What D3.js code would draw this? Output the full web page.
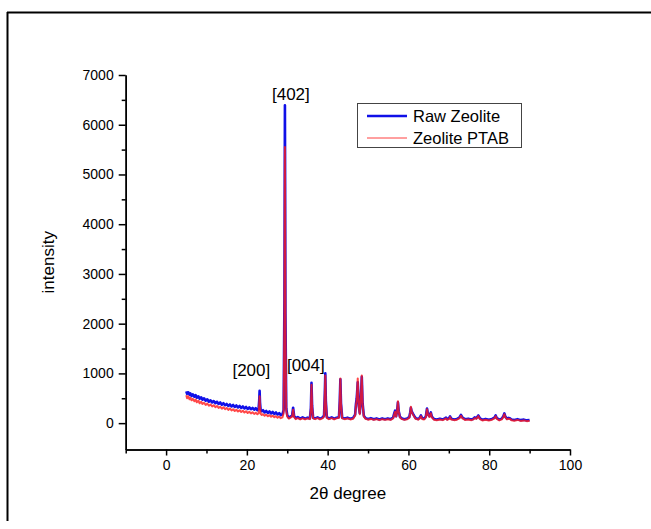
<!DOCTYPE html>
<html>
<head>
<meta charset="utf-8">
<script src="https://cdn.jsdelivr.net/npm/d3@7"></script>
<style>
body { margin: 0; background: #fff; }
svg { display: block; font-family: "Liberation Sans", Arial, sans-serif; }
.axis path, .axis line { stroke: #000; stroke-width: 1.5; fill: none; }
.axis text { font-size: 14px; fill: #000; }
</style>
</head>
<body>
<script>
// [2theta, intensity]
var rawZeolite = [[5.0,640],[5.2,590],[5.5,620],[5.8,570],[6.0,600],[6.3,545],[6.6,580],[7.0,530],[7.3,565],[7.6,510],[8.0,540],[8.3,490],[8.7,520],[9.0,470],[9.4,500],[9.8,450],[10.2,480],[10.6,430],[11.0,460],[11.4,415],[11.8,445],[12.2,400],[12.6,430],[13.0,385],[13.4,415],[13.8,370],[14.2,400],[14.6,360],[15.0,385],[15.4,345],[15.8,375],[16.2,335],[16.6,365],[17.0,325],[17.4,355],[17.8,315],[18.2,345],[18.6,305],[19.0,335],[19.4,295],[19.8,325],[20.2,285],[20.6,315],[21.0,280],[21.4,305],[21.8,270],[22.2,300],[22.6,260],[22.9,290],[23.05,450],[23.15,650],[23.25,420],[23.4,270],[23.7,240],[24.0,260],[24.4,215],[24.8,245],[25.2,205],[25.6,235],[26.0,195],[26.4,225],[26.8,185],[27.2,215],[27.6,175],[28.0,200],[28.4,160],[28.8,175],[29.1,260],[29.3,2500],[29.42,6390],[29.55,2200],[29.75,300],[30.0,160],[30.4,110],[30.8,130],[31.2,150],[31.45,310],[31.7,140],[32.1,100],[32.6,120],[33.2,90],[33.8,115],[34.4,90],[35.0,110],[35.6,95],[35.85,300],[36.0,810],[36.15,350],[36.4,110],[36.9,95],[37.5,115],[38.1,90],[38.7,110],[39.1,150],[39.3,600],[39.42,1000],[39.55,450],[39.8,120],[40.3,95],[41.0,115],[41.6,90],[42.2,110],[42.8,120],[43.0,450],[43.15,880],[43.3,400],[43.6,110],[44.2,95],[44.9,110],[45.6,90],[46.3,105],[46.8,170],[47.0,380],[47.2,500],[47.45,820],[47.7,350],[47.95,200],[48.25,550],[48.45,930],[48.65,400],[48.95,150],[49.4,100],[50.0,85],[50.7,100],[51.4,80],[52.1,95],[52.8,75],[53.5,95],[54.2,80],[54.9,95],[55.6,80],[56.2,110],[56.5,200],[56.7,250],[56.95,140],[57.2,250],[57.4,420],[57.6,240],[57.9,130],[58.4,95],[59.0,80],[59.7,95],[60.2,120],[60.45,220],[60.6,310],[60.8,240],[61.1,190],[61.4,150],[61.8,100],[62.4,85],[62.8,110],[63.1,155],[63.4,100],[63.9,90],[64.3,130],[64.6,295],[64.85,180],[65.2,140],[65.55,215],[65.8,130],[66.3,85],[67.0,75],[67.8,90],[68.5,75],[69.0,95],[69.3,110],[69.6,80],[70.0,95],[70.3,135],[70.6,90],[71.3,75],[72.0,85],[72.6,110],[73.0,165],[73.4,110],[74.0,80],[74.8,90],[75.6,75],[76.1,90],[76.4,115],[76.8,100],[77.3,155],[77.7,95],[78.3,70],[79.1,85],[79.9,70],[80.7,85],[81.3,110],[81.6,155],[81.9,100],[82.5,70],[83.1,90],[83.5,140],[83.75,195],[84.0,130],[84.4,90],[84.8,105],[85.1,100],[85.5,75],[86.2,65],[87.0,80],[87.8,60],[88.6,70],[89.3,55],[90.0,65]];

var zeolitePTAB = [[5.0,560],[5.2,500],[5.5,540],[5.8,480],[6.0,510],[6.3,460],[6.6,490],[7.0,440],[7.3,475],[7.6,420],[8.0,450],[8.3,400],[8.7,430],[9.0,385],[9.4,410],[9.8,365],[10.2,395],[10.6,350],[11.0,375],[11.4,335],[11.8,360],[12.2,320],[12.6,345],[13.0,305],[13.4,330],[13.8,290],[14.2,320],[14.6,280],[15.0,305],[15.4,265],[15.8,295],[16.2,255],[16.6,280],[17.0,245],[17.4,270],[17.8,235],[18.2,260],[18.6,225],[19.0,250],[19.4,215],[19.8,240],[20.2,205],[20.6,230],[21.0,195],[21.4,220],[21.8,185],[22.2,210],[22.6,180],[22.9,200],[23.05,350],[23.15,540],[23.25,330],[23.4,190],[23.7,165],[24.0,180],[24.4,150],[24.8,170],[25.2,140],[25.6,160],[26.0,130],[26.4,150],[26.8,120],[27.2,140],[27.6,110],[28.0,130],[28.4,100],[28.8,115],[29.1,200],[29.3,2200],[29.42,5550],[29.55,1900],[29.75,250],[30.0,130],[30.4,90],[30.8,110],[31.2,130],[31.45,270],[31.7,120],[32.1,80],[32.6,100],[33.2,75],[33.8,95],[34.4,75],[35.0,95],[35.6,80],[35.85,280],[36.0,770],[36.15,320],[36.4,95],[36.9,80],[37.5,100],[38.1,75],[38.7,95],[39.1,130],[39.3,580],[39.42,960],[39.55,420],[39.8,105],[40.3,80],[41.0,100],[41.6,75],[42.2,95],[42.8,110],[43.0,440],[43.15,900],[43.3,390],[43.6,95],[44.2,80],[44.9,95],[45.6,75],[46.3,90],[46.8,150],[47.0,350],[47.2,470],[47.45,900],[47.7,330],[47.95,180],[48.25,560],[48.45,960],[48.65,380],[48.95,130],[49.4,85],[50.0,70],[50.7,85],[51.4,65],[52.1,80],[52.8,60],[53.5,80],[54.2,65],[54.9,80],[55.6,65],[56.2,95],[56.5,180],[56.7,230],[56.95,130],[57.2,240],[57.4,440],[57.6,230],[57.9,115],[58.4,80],[59.0,65],[59.7,80],[60.2,105],[60.45,200],[60.6,330],[60.8,230],[61.1,175],[61.4,135],[61.8,85],[62.4,70],[62.8,95],[63.1,140],[63.4,85],[63.9,75],[64.3,115],[64.6,280],[64.85,170],[65.2,125],[65.55,200],[65.8,115],[66.3,70],[67.0,60],[67.8,75],[68.5,60],[69.0,80],[69.3,95],[69.6,65],[70.0,80],[70.3,120],[70.6,75],[71.3,60],[72.0,70],[72.6,95],[73.0,150],[73.4,95],[74.0,65],[74.8,75],[75.6,60],[76.1,75],[76.4,100],[76.8,85],[77.3,140],[77.7,80],[78.3,55],[79.1,70],[79.9,55],[80.7,70],[81.3,95],[81.6,140],[81.9,85],[82.5,55],[83.1,75],[83.5,125],[83.75,180],[84.0,115],[84.4,75],[84.8,90],[85.1,85],[85.5,60],[86.2,50],[87.0,65],[87.8,45],[88.6,55],[89.3,40],[90.0,50]];

var xMajor = [0, 20, 40, 60, 80, 100];
var xMinor = [-10, 10, 30, 50, 70, 90];
var yMajor = [0, 1000, 2000, 3000, 4000, 5000, 6000, 7000];
var yMinor = [500, 1500, 2500, 3500, 4500, 5500, 6500];

var peakLabels = ["[402]", "[200]", "[004]"];
var peakLabelPos = [[30.9, 6500], [21.1, 950], [34.6, 1050]];

var seriesNames = ["Raw Zeolite", "Zeolite PTAB"];

var W = 651, H = 529;

var x = d3.scaleLinear().domain([-10, 100]).range([125.7, 570]);
var y = d3.scaleLinear().domain([-530, 7000]).range([449.5, 75]);

var svg = d3.select("body").append("svg")
    .attr("width", W)
    .attr("height", H);

// outer frame (top and left only)
svg.append("line").attr("x1", 7).attr("x2", W).attr("y1", 12.5).attr("y2", 12.5)
    .attr("stroke", "#000").attr("stroke-width", 2);
svg.append("line").attr("x1", 7.5).attr("x2", 7.5).attr("y1", 12).attr("y2", 521)
    .attr("stroke", "#000").attr("stroke-width", 2);

// axes
var xAxis = d3.axisBottom(x).tickValues(xMajor).tickSize(6).tickSizeOuter(0).tickPadding(5)
    .tickFormat(d3.format("d"));
var xAxisMinor = d3.axisBottom(x).tickValues(xMinor).tickSize(4).tickSizeOuter(0).tickFormat("");
var yAxis = d3.axisLeft(y).tickValues(yMajor).tickSize(7).tickSizeOuter(0).tickPadding(5)
    .tickFormat(d3.format("d"));
var yAxisMinor = d3.axisLeft(y).tickValues(yMinor).tickSize(4).tickSizeOuter(0).tickFormat("");

svg.append("g").attr("class", "x axis")
    .attr("transform", "translate(0," + y(-530) + ")")
    .call(xAxis);
svg.append("g").attr("class", "x axis")
    .attr("transform", "translate(0," + y(-530) + ")")
    .call(xAxisMinor);
svg.append("g").attr("class", "y axis")
    .attr("transform", "translate(" + x(-10) + ",0)")
    .call(yAxis);
svg.append("g").attr("class", "y axis")
    .attr("transform", "translate(" + x(-10) + ",0)")
    .call(yAxisMinor);

svg.selectAll(".axis text").style("font-size", "14px");

// axis titles
svg.append("text")
    .attr("x", (x(-10) + x(100)) / 2)
    .attr("y", 499)
    .attr("text-anchor", "middle")
    .style("font-size", "17px")
    .text("2\u03B8 degree");

svg.append("text")
    .attr("transform", "translate(54," + (y(-530) + y(7000)) / 2 + ") rotate(-90)")
    .attr("text-anchor", "middle")
    .style("font-size", "17px")
    .text("intensity");

// data lines
var line = d3.line()
    .x(function(d) { return x(d[0]); })
    .y(function(d) { return y(d[1]); });

svg.append("path")
    .datum(rawZeolite)
    .attr("fill", "none")
    .attr("stroke", "#1010e8")
    .attr("stroke-width", 2.6)
    .attr("stroke-linejoin", "round")
    .attr("d", line);

svg.append("path")
    .datum(zeolitePTAB)
    .attr("fill", "none")
    .attr("stroke", "#ff1a1a")
    .attr("stroke-opacity", 0.8)
    .attr("stroke-width", 2)
    .attr("stroke-linejoin", "round")
    .attr("d", line);

// peak labels
svg.selectAll(".peak")
    .data(peakLabels)
    .enter().append("text")
    .attr("class", "peak")
    .attr("x", function(d, i) { return x(peakLabelPos[i][0]); })
    .attr("y", function(d, i) { return y(peakLabelPos[i][1]); })
    .attr("text-anchor", "middle")
    .style("font-size", "17px")
    .text(function(d) { return d; });

// legend
var legend = svg.append("g").attr("class", "legend");
legend.append("rect")
    .attr("x", 357.5).attr("y", 103.5)
    .attr("width", 164).attr("height", 44)
    .attr("fill", "#fff")
    .attr("stroke", "#444")
    .attr("stroke-width", 1);

var legendColors = ["#1010e8", "#ff4040"];
var legendWidths = [2.5, 1];
legend.selectAll(".lline")
    .data(seriesNames)
    .enter().append("line")
    .attr("class", "lline")
    .attr("x1", 367).attr("x2", 407)
    .attr("y1", function(d, i) { return 116 + i * 22; })
    .attr("y2", function(d, i) { return 116 + i * 22; })
    .attr("stroke", function(d, i) { return legendColors[i]; })
    .attr("stroke-width", function(d, i) { return legendWidths[i]; });

legend.selectAll(".ltext")
    .data(seriesNames)
    .enter().append("text")
    .attr("class", "ltext")
    .attr("x", 413)
    .attr("y", function(d, i) { return 122 + i * 22; })
    .style("font-size", "16.5px")
    .text(function(d) { return d; });
</script>
</body>
</html>
